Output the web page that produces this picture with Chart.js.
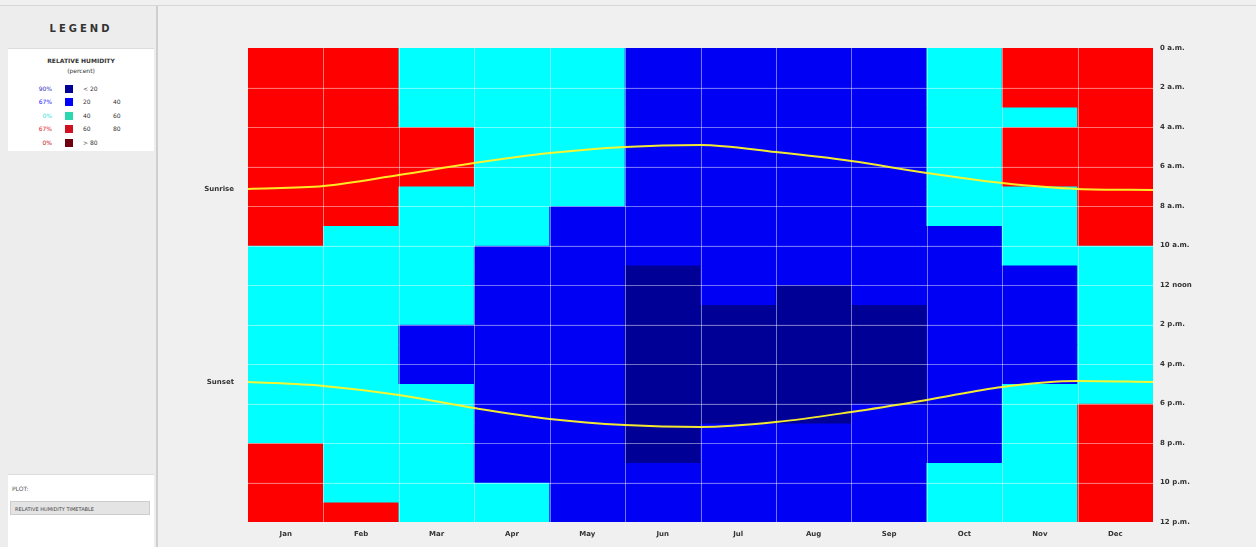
<!DOCTYPE html>
<html>
<head>
<meta charset="utf-8">
<script src="https://cdn.jsdelivr.net/npm/chart.js@4/dist/chart.umd.min.js"></script>
<style>
  body { margin: 0; width: 1256px; height: 547px; overflow: hidden; background: #f0f0f0; font-family: "DejaVu Sans", sans-serif; position: relative; }
  #side { position: absolute; left: 0; top: 6px; width: 156px; height: 541px; background: #ededed; border-right: 2px solid #cfcfcf; }
  #legHead { position: absolute; left: 8px; top: 4px; width: 146px; height: 38px; text-align: center; line-height: 38px; font-size: 10px; font-weight: bold; letter-spacing: 3px; color: #333; }
  #legBox { position: absolute; left: 8px; top: 42px; width: 146px; height: 102px; background: #fff; border-top: 1px solid #ddd; }
  #legBox .t { text-align: center; font-size: 6px; font-weight: bold; color: #333; }
  .row { position: absolute; left: 0; width: 146px; height: 10px; font-size: 6px; line-height: 10px; color: #333; }
  .row .pc { position: absolute; left: 20px; width: 24px; text-align: right; }
  .row .sw { position: absolute; left: 57px; top: 1px; width: 8px; height: 8px; }
  .row .lo { position: absolute; left: 75px; }
  .row .hi { position: absolute; left: 105px; }
  #plotBox { position: absolute; left: 8px; top: 468px; width: 146px; height: 73px; background: #fff; border-top: 1px solid #ddd; }
  #plotBox .lab { position: absolute; left: 4px; top: 10px; font-size: 6px; color: #555; }
  #plotBox .dd { position: absolute; left: 2px; top: 26px; width: 140px; height: 14px; background: #e4e4e4; border: 1px solid #ccc; font-size: 5px; line-height: 14px; color: #444; padding-left: 4px; box-sizing: border-box; }
  #topline { position: absolute; left: 0; top: 5px; width: 1256px; height: 1px; background: #d6d6d6; }
  #wrap { position: absolute; left: 160px; top: 0; width: 1096px; height: 547px; }
</style>
</head>
<body>
<div id="topline"></div>
<div id="side">
  <div id="legHead">LEGEND</div>
  <div id="legBox">
    <div class="t" style="margin-top:8px">RELATIVE HUMIDITY</div>
    <div class="t" style="margin-top:3px;font-weight:normal">(percent)</div>
    <div class="row" style="top:35px"><span class="pc" style="color:#3030c0">90%</span><span class="sw" style="background:#000096"></span><span class="lo">&lt; 20</span></div>
    <div class="row" style="top:48px"><span class="pc" style="color:#2020ff">67%</span><span class="sw" style="background:#0000ff"></span><span class="lo">20</span><span class="hi">40</span></div>
    <div class="row" style="top:62px"><span class="pc" style="color:#40e0e0">0%</span><span class="sw" style="background:#2ad8b0"></span><span class="lo">40</span><span class="hi">60</span></div>
    <div class="row" style="top:75px"><span class="pc" style="color:#e02020">67%</span><span class="sw" style="background:#d01020"></span><span class="lo">60</span><span class="hi">80</span></div>
    <div class="row" style="top:89px"><span class="pc" style="color:#c01010">0%</span><span class="sw" style="background:#700010"></span><span class="lo">&gt; 80</span></div>
  </div>
  <div id="plotBox">
    <div class="lab">PLOT:</div>
    <div class="dd">RELATIVE HUMIDITY TIMETABLE</div>
  </div>
</div>
<div id="wrap"><canvas id="chart"></canvas></div>
<script>
const months = ['Jan', 'Feb', 'Mar', 'Apr', 'May', 'Jun', 'Jul', 'Aug', 'Sep', 'Oct', 'Nov', 'Dec'];
const hourLabels = ['0 a.m.', '2 a.m.', '4 a.m.', '6 a.m.', '8 a.m.', '10 a.m.', '12 noon', '2 p.m.', '4 p.m.', '6 p.m.', '8 p.m.', '10 p.m.', '12 p.m.'];

// humidity class for each hour 0..23: 0 <20, 1 20-40, 2 40-60, 3 60-80, 4 >80
const jan = [3,3,3,3,3,3,3,3,3,3, 2,2,2,2,2,2,2,2,2,2, 3,3,3,3];
const feb = [3,3,3,3,3,3,3,3,3, 2,2,2,2,2,2,2,2,2,2,2,2,2,2, 3];
const mar = [2,2,2,2, 3,3,3, 2,2,2,2,2,2,2, 1,1,1, 2,2,2,2,2,2,2];
const apr = [2,2,2,2,2,2,2,2,2,2, 1,1,1,1,1,1,1,1,1,1,1,1, 2,2];
const may = [2,2,2,2,2,2,2,2, 1,1,1,1,1,1,1,1,1,1,1,1,1,1,1,1];
const jun = [1,1,1,1,1,1,1,1,1,1,1, 0,0,0,0,0,0,0,0,0,0, 1,1,1];
const jul = [1,1,1,1,1,1,1,1,1,1,1,1,1, 0,0,0,0,0,0, 1,1,1,1,1];
const aug = [1,1,1,1,1,1,1,1,1,1,1,1, 0,0,0,0,0,0,0, 1,1,1,1,1];
const sep = [1,1,1,1,1,1,1,1,1,1,1,1,1, 0,0,0,0,0, 1,1,1,1,1,1];
const oct = [2,2,2,2,2,2,2,2,2, 1,1,1,1,1,1,1,1,1,1,1,1, 2,2,2];
const nov = [3,3,3, 2, 3,3,3, 2,2,2,2, 1,1,1,1,1,1, 2,2,2,2,2,2,2];
const dec = [3,3,3,3,3,3,3,3,3,3, 2,2,2,2,2,2,2,2, 3,3,3,3,3,3];

// sunrise / sunset hour at month boundaries (start of Jan .. end of Dec)
const sunrise = [7.14, 6.99, 6.43, 5.82, 5.32, 5.01, 4.91, 5.27, 5.72, 6.33, 6.84, 7.14, 7.19];
const sunset = [16.91, 17.11, 17.57, 18.23, 18.78, 19.09, 19.19, 18.94, 18.43, 17.82, 17.16, 16.86, 16.91];

const classColors = ['#000096', '#0000f5', '#00ffff', '#ff0000', '#7a0010'];

const grid = [jan, feb, mar, apr, may, jun, jul, aug, sep, oct, nov, dec];

const datasets = [];
for (let h = 0; h < 24; h++) {
    datasets.push({
        type: 'bar',
        data: months.map(() => [h, h + 1]),
        backgroundColor: grid.map(m => classColors[m[h]]),
        borderWidth: 0,
        grouped: false,
        barPercentage: 1,
        categoryPercentage: 1,
        xAxisID: 'x',
        yAxisID: 'y'
    });
}
datasets.push({
    type: 'line', label: 'Sunrise', order: -1,
    data: sunrise.map((v, i) => ({ x: i, y: v })),
    borderColor: 'rgba(255,245,40,0.95)', borderWidth: 2, pointRadius: 0,
    cubicInterpolationMode: 'monotone', xAxisID: 'x2', yAxisID: 'y'
});
datasets.push({
    type: 'line', label: 'Sunset', order: -1,
    data: sunset.map((v, i) => ({ x: i, y: v })),
    borderColor: 'rgba(255,245,40,0.95)', borderWidth: 2, pointRadius: 0,
    cubicInterpolationMode: 'monotone', xAxisID: 'x2', yAxisID: 'y'
});

// white grid over the coloured cells (after the last bar set is drawn)
const overGrid = {
    id: 'overGrid',
    afterDatasetDraw(chart, args) {
        if (args.index !== 0) return;
        const ctx = chart.ctx;
        const a = chart.chartArea;
        const xs = chart.scales.x2;
        const ys = chart.scales.y;
        ctx.save();
        ctx.strokeStyle = 'rgba(255,255,255,0.45)';
        ctx.lineWidth = 1;
        ctx.beginPath();
        for (let i = 1; i < months.length; i++) {
            const px = Math.round(xs.getPixelForValue(i)) + 0.5;
            ctx.moveTo(px, a.top);
            ctx.lineTo(px, a.bottom);
        }
        for (let v = 2; v < 24; v += 2) {
            const py = Math.round(ys.getPixelForValue(v)) + 0.5;
            ctx.moveTo(a.left, py);
            ctx.lineTo(a.right, py);
        }
        ctx.stroke();
        ctx.restore();
    }
};

// little labels left of the plot for sunrise / sunset
const sideLabels = {
    id: 'sideLabels',
    afterDraw(chart) {
        const ctx = chart.ctx;
        const y = chart.scales.y;
        const left = chart.chartArea.left;
        ctx.save();
        ctx.font = 'bold 7px "DejaVu Sans"';
        ctx.fillStyle = '#333';
        ctx.textAlign = 'right';
        ctx.textBaseline = 'middle';
        ctx.fillText('Sunrise', left - 14, y.getPixelForValue(sunrise[0]));
        ctx.fillText('Sunset', left - 14, y.getPixelForValue(sunset[0]));
        ctx.restore();
    }
};

new Chart(document.getElementById('chart').getContext('2d'), {
    data: { labels: months, datasets: datasets },
    options: {
        responsive: true,
        maintainAspectRatio: false,
        animation: false,
        layout: { padding: { left: 88, right: 43, top: 48, bottom: 3 } },
        plugins: { legend: { display: false }, tooltip: { enabled: false } },
        scales: {
            x: {
                offset: true,
                grid: { display: false, drawTicks: false },
                border: { display: false },
                ticks: { color: '#333', font: { size: 7, weight: 'bold', family: 'DejaVu Sans' }, padding: 8, maxRotation: 0 },
                afterFit: s => { s.height = 22; }
            },
            x2: { type: 'linear', min: 0, max: 12, display: false },
            y: {
                position: 'right',
                min: 0, max: 24,
                reverse: true,
                grid: { display: false, drawTicks: false },
                border: { display: false },
                ticks: {
                    stepSize: 2,
                    color: '#333',
                    font: { size: 7, weight: 'bold', family: 'DejaVu Sans' },
                    padding: 7,
                    callback: v => hourLabels[v / 2]
                },
                afterFit: s => { s.width = 60; }
            }
        }
    },
    plugins: [overGrid, sideLabels]
});
</script>
</body>
</html>
